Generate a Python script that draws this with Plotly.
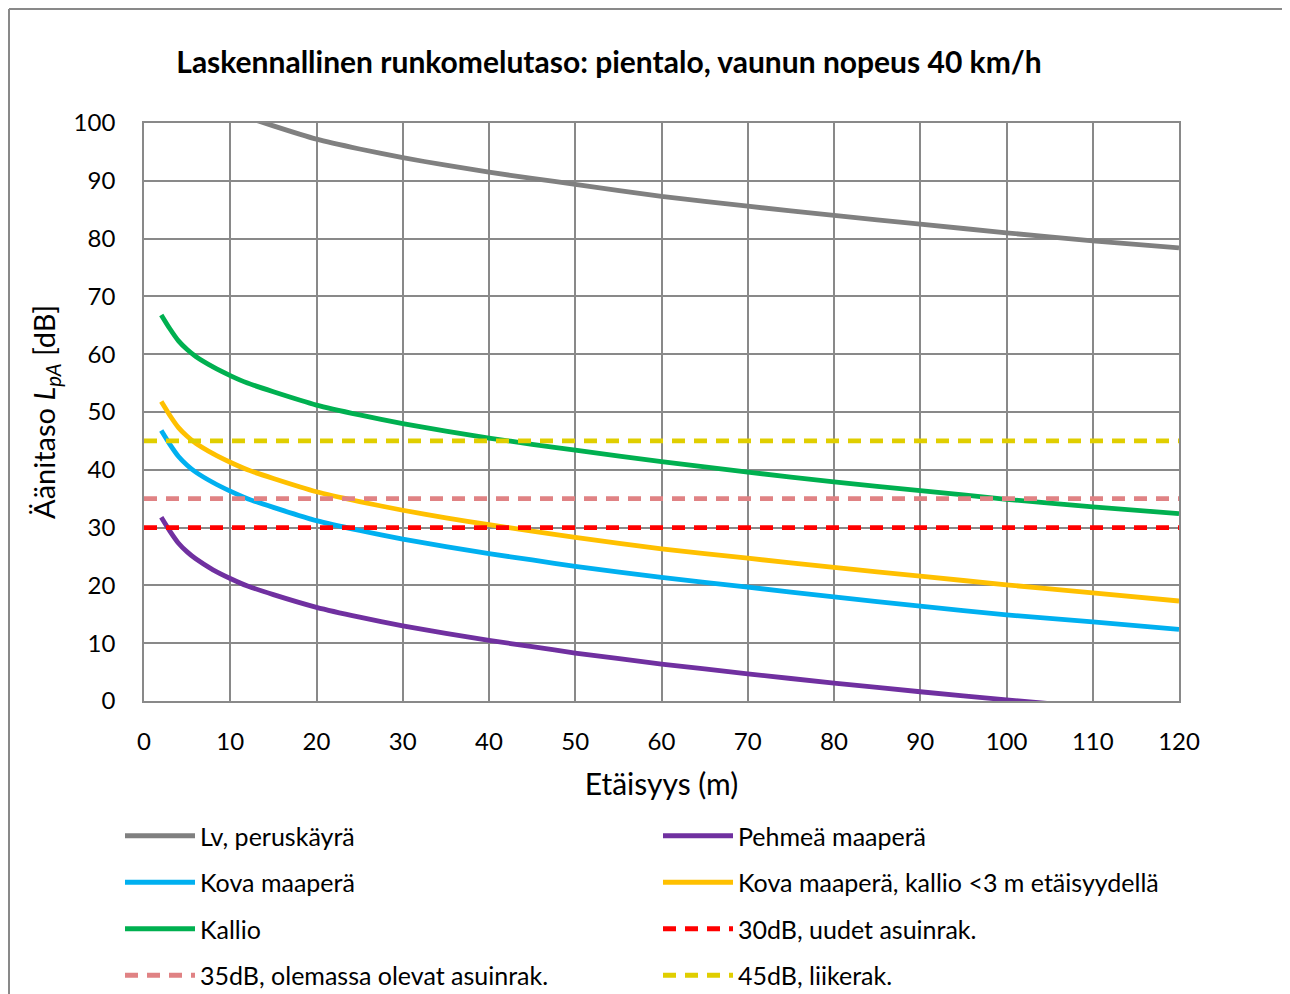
import plotly.graph_objects as go

# ---- data ----
distance = [2, 3, 4, 5, 6, 8, 10, 12, 15, 20, 25, 30, 35, 40, 45, 50, 60, 70, 80, 90, 100, 110, 120]
lv_perus = [112.8, 110.4, 108.3, 106.8, 105.6, 103.8, 102.3, 101.0, 99.5, 97.2, 95.5, 94.0, 92.7, 91.5,
            90.4, 89.4, 87.3, 85.6, 84.0, 82.5, 81.0, 79.6, 78.4]
pehmea = [31.8, 29.4, 27.3, 25.8, 24.6, 22.7, 21.2, 19.9, 18.4, 16.2, 14.5, 13.0, 11.7, 10.5,
          9.4, 8.3, 6.4, 4.7, 3.1, 1.6, 0.2, -1.1, -2.4]
kova = [46.8, 44.4, 42.3, 40.8, 39.6, 37.8, 36.3, 35.0, 33.5, 31.2, 29.5, 28.0, 26.7, 25.5,
        24.4, 23.3, 21.4, 19.7, 18.0, 16.4, 14.9, 13.7, 12.4]
kova_kallio = [51.8, 49.4, 47.3, 45.8, 44.6, 42.8, 41.3, 40.0, 38.5, 36.2, 34.5, 33.0, 31.7, 30.5,
               29.4, 28.3, 26.3, 24.7, 23.1, 21.6, 20.1, 18.7, 17.3]
kallio = [66.8, 64.4, 62.3, 60.8, 59.6, 57.8, 56.3, 55.0, 53.5, 51.2, 49.5, 48.0, 46.7, 45.5,
          44.4, 43.4, 41.4, 39.6, 37.9, 36.4, 34.9, 33.6, 32.4]
limit_x = [0, 120]
limit_30 = [30, 30]
limit_35 = [35, 35]
limit_45 = [45, 45]

names = ["Lv, peruskäyrä", "Pehmeä maaperä", "Kova maaperä", "Kova maaperä, kallio <3 m etäisyydellä",
         "Kallio", "30dB, uudet asuinrak.", "35dB, olemassa olevat asuinrak.", "45dB, liikerak."]
x_ticks = [0, 10, 20, 30, 40, 50, 60, 70, 80, 90, 100, 110, 120]
y_ticks = [0, 10, 20, 30, 40, 50, 60, 70, 80, 90, 100]

title_text = "Laskennallinen runkomelutaso: pientalo, vaunun nopeus 40 km/h"
x_title = "Etäisyys (m)"
y_title = "Äänitaso <i>L</i><sub><i>pA</i></sub> [dB]"

FONT = "Lato, Calibri, Carlito, sans-serif"
OFF = 8  # the page body margin shifts the figure by 8 px
W, H = 1290 - OFF, 994 - OFF
L, R, T, B = 144 - OFF, 1179 - OFF, 123 - OFF, 701 - OFF


def fx(px):  # page pixel x -> paper x
    return (px - OFF - L) / (R - L)


def fy(py):  # page pixel y -> paper y
    return (B - (py - OFF)) / (B - T)


fig = go.Figure()

curves = [
    (distance, lv_perus, names[0], "#808080", None, "legend"),
    (distance, pehmea, names[1], "#7030A0", None, "legend2"),
    (distance, kova, names[2], "#00B0F0", None, "legend"),
    (distance, kova_kallio, names[3], "#FFC000", None, "legend2"),
    (distance, kallio, names[4], "#00B050", None, "legend"),
    (limit_x, limit_30, names[5], "#FF0000", "13px,9px", "legend2"),
    (limit_x, limit_35, names[6], "#E08284", "13px,9px", "legend"),
    (limit_x, limit_45, names[7], "#E0CE00", "13px,9px", "legend2"),
]
for i, (xs, ys, nm, col, dash, leg) in enumerate(curves):
    fig.add_trace(go.Scatter(
        x=xs, y=ys, name=nm, mode="lines",
        line=dict(color=col, width=4.8, dash=dash if dash else "solid",
                  shape="spline" if dash is None else "linear", smoothing=0.6),
        legend=leg, legendgroup=f"g{i}",
    ))

legend_common = dict(
    orientation="v", font=dict(family=FONT, size=25, color="#000000"),
    bgcolor="rgba(0,0,0,0)", tracegroupgap=11, itemwidth=70,
    xref="container", yref="container", xanchor="left", yanchor="top",
)

fig.update_layout(
    width=W, height=H,
    margin=dict(l=L, r=W - R, t=T, b=H - B, autoexpand=False),
    paper_bgcolor="white", plot_bgcolor="white",
    font=dict(family=FONT, color="#000000"),
    title=dict(text=f"<b>{title_text}</b>", font=dict(family=FONT, size=30, color="#000000"),
               x=(609 - OFF) / W, xref="container", xanchor="center",
               y=1 - (62 - OFF) / H, yref="container", yanchor="middle"),
    xaxis=dict(range=[0, 120], tickvals=x_ticks, ticktext=[str(v) for v in x_ticks],
               showgrid=True, gridcolor="#898989", gridwidth=1.7,
               showline=True, linecolor="#898989", linewidth=1.7, mirror=True,
               zeroline=False, ticks="", ticklabelstandoff=18,
               tickfont=dict(family=FONT, size=24, color="#000000"),
               title=dict(text=x_title, font=dict(family=FONT, size=30, color="#000000"), standoff=20)),
    yaxis=dict(range=[0, 100], tickvals=y_ticks, ticktext=[str(v) for v in y_ticks],
               showgrid=True, gridcolor="#898989", gridwidth=1.7,
               showline=True, linecolor="#898989", linewidth=1.7, mirror=True,
               zeroline=False, ticks="", ticklabelstandoff=22,
               tickfont=dict(family=FONT, size=24, color="#000000")),
    legend=dict(x=(120 - OFF) / W, y=1 - (813 - OFF) / H, **legend_common),
    legend2=dict(x=(658 - OFF) / W, y=1 - (813 - OFF) / H, **legend_common),
    showlegend=True,
)

# y-axis title (rotated), placed as in the reference
fig.add_annotation(text=y_title, xref="paper", yref="paper", x=fx(45), y=fy(412),
                   xanchor="center", yanchor="middle", textangle=-90, showarrow=False,
                   font=dict(family=FONT, size=29, color="#000000"))

# outer chart border (top and left edges visible in the reference)
fig.add_shape(type="line", xref="paper", yref="paper",
              x0=fx(OFF + 1), x1=fx(1300), y0=fy(OFF + 1), y1=fy(OFF + 1),
              line=dict(color="#898989", width=2))
fig.add_shape(type="line", xref="paper", yref="paper",
              x0=fx(OFF + 1), x1=fx(OFF + 1), y0=fy(OFF + 1), y1=fy(1010),
              line=dict(color="#898989", width=2))

fig.write_html("out.html")
